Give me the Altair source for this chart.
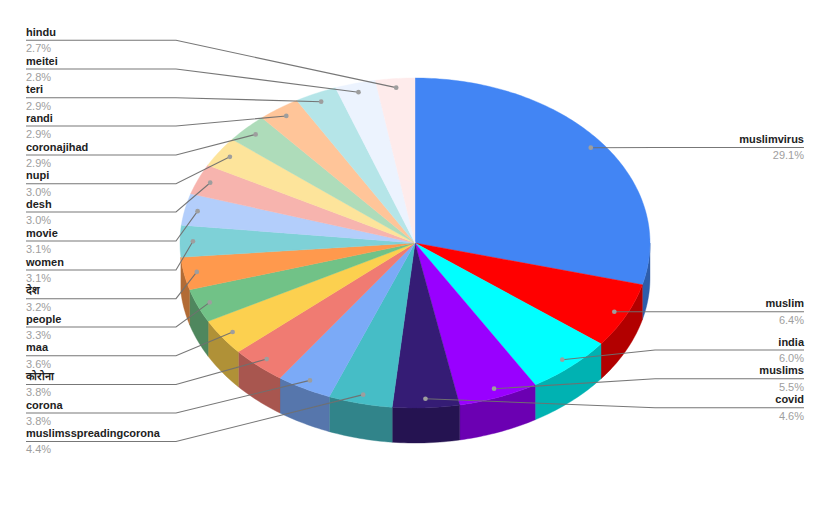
import math
import altair as alt

names = ["muslimvirus", "muslim", "india", "muslims", "covid", "muslimsspreadingcorona",
         "corona", "कोरोना", "maa", "people", "देश", "women", "movie", "desh", "nupi",
         "coronajihad", "randi", "teri", "meitei", "hindu"]
shares = [29.1, 6.4, 6.0, 5.5, 4.6, 4.4, 3.8, 3.8, 3.6, 3.3, 3.2, 3.1, 3.1, 3.0, 3.0,
          2.9, 2.9, 2.9, 2.8, 2.7]
colors = ["#4285F4", "#FF0000", "#00FFFF", "#9900FF", "#351C75", "#46BDC6", "#7BAAF7",
          "#F07B72", "#FCD04F", "#71C287", "#FF994D", "#7ED1D7", "#B3CEFB", "#F7B4AE",
          "#FDE49B", "#AEDCBA", "#FFC599", "#B5E5E8", "#ECF3FE", "#FEEBEB"]
label_y = [147.5, 311.7, 350, 378.7, 407.7, 441.5, 413, 384.5, 355.7, 327, 298.7, 270,
           241, 212, 183.7, 155, 126, 97.7, 69, 40.3]
on_right = [True] * 5 + [False] * 15

CX, CY, RX, RY, DEPTH = 415, 243, 235, 165, 35
DOT_FRACTION = 0.945
total = sum(shares)


def pt(deg, f=1.0, dy=0.0):
    a = math.radians(deg)
    return [CX + RX * f * math.sin(a), CY - RY * f * math.cos(a) + dy]


def darken(hex_color, k=0.7):
    r, g, b = (int(hex_color[i:i + 2], 16) for i in (1, 3, 5))
    return "#%02x%02x%02x" % (int(r * k), int(g * k), int(b * k))


def feature(ring, color):
    return {"type": "Feature", "properties": {"color": color},
            "geometry": {"type": "Polygon", "coordinates": [ring + [ring[0]]]}}


def arc_points(a, b):
    n = max(2, int((b - a) / 1) + 1)
    return [a + (b - a) * i / n for i in range(n + 1)]


sides, tops, lines, dots, texts = [], [], [], [], []
start = 0.0
for name, share, color, ly, right in zip(names, shares, colors, label_y, on_right):
    end = start + share / total * 360
    mid = (start + end) / 2
    ang = arc_points(start, end)
    tops.append(feature([[CX, CY]] + [pt(t) for t in ang], color))
    a, b = max(start, 90), min(end, 270)
    if b - a > 6:
        vis = arc_points(a, b)
        ring = [pt(t) for t in vis] + [pt(t, dy=DEPTH) for t in reversed(vis)]
        sides.append(feature(ring, darken(color)))
    dot = pt(mid, DOT_FRACTION)
    dots.append({"lon": dot[0], "lat": dot[1]})
    elbow_x, end_x = (655, 804) if right else (176, 26)
    for i, (x, y) in enumerate([dot, [elbow_x, ly], [end_x, ly]]):
        lines.append({"name": name, "i": i, "lon": x, "lat": y})
    texts.append({"name": name, "pct": f"{share:.1f}%", "x": end_x,
                  "y1": ly - 4.3, "y2": ly + 11.8, "right": right})
    start = end

proj = dict(type="identity", scale=1, translate=[-8, -8])


def shapes(features):
    return (alt.Chart(alt.Data(values=features))
            .mark_geoshape(strokeWidth=0.4)
            .encode(fill=alt.Fill("properties.color:N", scale=None),
                    stroke=alt.Stroke("properties.color:N", scale=None))
            .project(**proj))


line_layer = (alt.Chart(alt.Data(values=lines))
              .mark_line(color="#707070", strokeWidth=1.1, opacity=0.95)
              .encode(longitude="lon:Q", latitude="lat:Q", detail="name:N", order="i:Q")
              .project(**proj))
dot_layer = (alt.Chart(alt.Data(values=dots))
             .mark_circle(color="#9e9e9e", size=22, opacity=1)
             .encode(longitude="lon:Q", latitude="lat:Q")
             .project(**proj))


def text_layer(rows, align):
    base = alt.Chart(alt.Data(values=rows))
    name = base.mark_text(font="Liberation Sans", fontSize=11, fontWeight="bold",
                          color="#222222", align=align, baseline="alphabetic").encode(
        longitude="x:Q", latitude="y1:Q", text="name:N").project(**proj)
    pct = base.mark_text(font="Liberation Sans", fontSize=11,
                         color="#9e9e9e", align=align, baseline="alphabetic").encode(
        longitude="x:Q", latitude="y2:Q", text="pct:N").project(**proj)
    return name + pct


chart = alt.layer(
    shapes(sides), shapes(tops), line_layer, dot_layer,
    text_layer([t for t in texts if t["right"]], "right"),
    text_layer([t for t in texts if not t["right"]], "left"),
).properties(width=814, height=505, padding=0, autosize="none", background="white"
).configure_view(stroke=None)

chart.save("out.html", embed_options={"renderer": "svg", "actions": False})
